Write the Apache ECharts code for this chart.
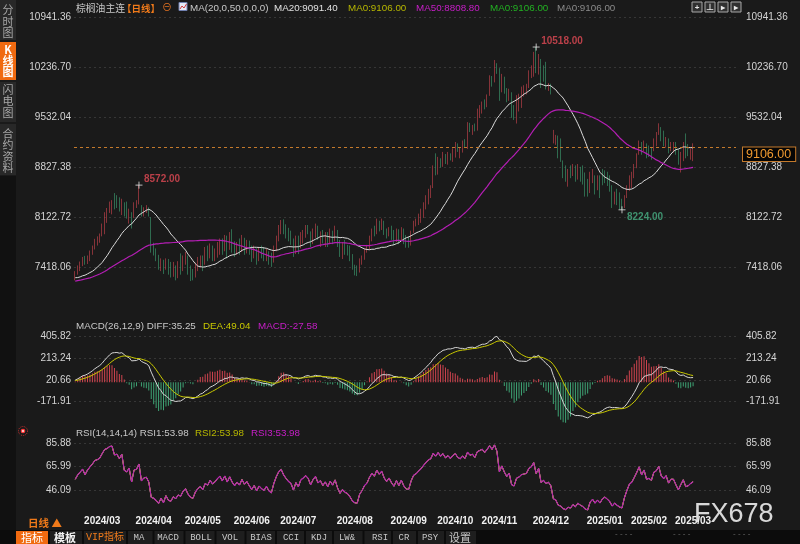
<!DOCTYPE html>
<html><head><meta charset="utf-8">
<script src="https://cdn.jsdelivr.net/npm/echarts@6/dist/echarts.min.js"></script>
<style>html,body{margin:0;padding:0;background:#1a1a1a;}#c{width:800px;height:544px;}</style>
</head><body><div id="c"></div>
<script>
// ---- data ----
// closes before the first visible candle (only used to warm up MA / MACD / RSI)
const pre = [7050,7130,7010,6960,7070,7150,7090,7020,7110,7180,7100,7060,7190,7110,7050,7160,7220,7130,7080,7150,
  7090,7180,7240,7140,7220,7280,7170,7130,7250,7300,7200,7150,7120,7230,7280,7330,7230,7180,7150,7260,
  7320,7380,7290,7230,7300,7200,7260,7350,7270,7190,7240,7300,7210,7290,7220,7180,7290,7230,7300,7270];
// visible daily candles: [open, close, low, high]
const ohlc = [
[7258,7343,7230,7360],[7329,7423,7310,7440],[7376,7479,7360,7495],[7446,7540,7430,7560],[7540,7470,7450,7575],[7479,7564,7460,7580],[7517,7634,7500,7650],[7611,7705,7590,7720],[7681,7799,7665,7815],[7742,7822,7720,7850],
[7775,7869,7760,7890],[7869,8010,7850,8030],[7893,8174,7880,8190],[8057,8221,8040,8250],[8198,8315,8180,8340],[8174,8339,8160,8360],[8432,8245,8230,8460],[8409,8268,8250,8430],[8386,8221,8200,8400],[8174,8362,8150,8380],
[8315,8151,8130,8330],[8315,8127,8100,8340],[8057,8221,8030,8240],[8174,7986,7960,8190],[8127,8315,8110,8330],[8268,8339,8250,8360],[8315,8527,8300,8572],[8268,8151,8130,8290],[8151,8245,8130,8260],[8198,8268,8180,8290],
[8245,8151,8130,8260],[8100,7650,7620,8120],[7700,7611,7580,7760],[7650,7520,7500,7680],[7560,7400,7380,7590],[7380,7520,7360,7540],[7500,7340,7320,7520],[7400,7520,7380,7540],[7510,7330,7310,7530],[7470,7290,7270,7490],
[7300,7400,7280,7490],[7420,7330,7230,7440],[7300,7420,7260,7500],[7540,7380,7310,7610],[7380,7500,7360,7580],[7470,7560,7450,7630],[7560,7400,7310,7580],[7420,7300,7220,7440],[7370,7260,7230,7390],[7290,7400,7270,7480],
[7400,7480,7360,7560],[7440,7530,7410,7580],[7560,7450,7360,7580],[7470,7600,7450,7700],[7680,7560,7500,7720],[7560,7680,7540,7750],[7710,7600,7500,7720],[7560,7650,7500,7680],[7600,7730,7550,7770],[7690,7790,7590,7820],
[7800,7700,7590,7820],[7680,7820,7640,7870],[7840,7700,7540,7860],[7680,7830,7660,7910],[7900,7720,7620,7950],[7760,7640,7560,7780],[7620,7720,7590,7770],[7790,7660,7590,7820],[7650,7790,7630,7870],[7800,7690,7590,7830],
[7650,7750,7610,7800],[7770,7660,7590,7790],[7700,7580,7490,7720],[7560,7660,7540,7720],[7660,7540,7450,7680],[7530,7640,7500,7700],[7690,7580,7540,7720],[7640,7540,7500,7700],[7520,7620,7500,7680],[7630,7520,7450,7640],
[7580,7480,7420,7620],[7500,7660,7480,7720],[7660,7820,7640,7860],[7800,7960,7780,8010],[7900,8030,7880,8080],[8070,7930,7880,8090],[7990,7860,7820,8020],[7940,7800,7780,7970],[7900,7760,7730,7930],[7800,7620,7560,7820],
[7620,7780,7600,7860],[7840,7690,7600,7860],[7690,7850,7680,7910],[7780,7900,7750,7940],[7850,7960,7830,8010],[7990,7910,7880,8010],[7900,7780,7700,7920],[7760,7900,7740,7960],[7860,7980,7830,8030],[7990,7850,7800,8000],
[7760,7900,7700,7920],[7920,7800,7750,7940],[7740,7880,7700,7910],[7900,7780,7700,7910],[7760,7900,7740,7960],[7920,7820,7740,7930],[7800,7940,7780,8000],[7930,7760,7700,7940],[7780,7620,7560,7800],[7560,7700,7530,7770],
[7760,7630,7590,7800],[7700,7600,7580,7730],[7680,7520,7500,7720],[7570,7400,7380,7600],[7430,7340,7300,7450],[7420,7330,7290,7440],[7360,7480,7340,7540],[7480,7550,7450,7580],[7550,7650,7520,7680],[7640,7700,7620,7730],
[7690,7830,7660,7860],[7820,7930,7780,7960],[7980,7880,7850,8000],[7890,8040,7880,8100],[8060,7970,7920,8070],[7960,8050,7940,8100],[8060,7930,7870,8070],[7950,7860,7820,7960],[7860,7940,7850,7980],[7970,7850,7800,8000],
[7900,7780,7730,7940],[7790,7900,7770,7960],[7920,7800,7740,7950],[7800,7920,7790,7980],[7940,7800,7740,7960],[7840,7730,7690,7870],[7800,7720,7690,7850],[7740,7900,7720,7930],[7920,8040,7900,8070],[8020,8080,7990,8100],
[8034,8151,8010,8170],[8057,8221,8040,8240],[8128,8315,8110,8330],[8245,8409,8230,8430],[8315,8503,8300,8520],[8409,8550,8390,8570],[8550,8780,8530,8850],[8973,8740,8710,9020],[8738,8900,8720,8970],[8930,8850,8820,8950],
[8850,8960,8830,9040],[8990,8900,8870,9010],[8880,8990,8860,9040],[9000,8950,8920,9020],[8930,9060,8900,9090],[8990,9150,8960,9180],[9130,9100,9040,9160],[8990,9080,8950,9100],[9050,9180,9030,9200],[9200,9150,9110,9220],
[9100,9400,9080,9460],[9430,9360,9320,9450],[9300,9400,9280,9420],[9420,9360,9330,9440],[9360,9600,9340,9650],[9560,9660,9520,9700],[9600,9720,9580,9750],[9760,9680,9640,9780],[9690,9830,9670,9850],[9850,10050,9830,10120],
[10080,10000,9960,10110],[10040,10300,10020,10335],[10260,10200,10140,10290],[10200,9800,9760,10220],[9900,10050,9880,10140],[10080,9900,9860,10100],[9920,9780,9740,9940],[9780,9900,9760,9930],[9860,9560,9520,9880],[9650,9520,9490,9700],
[9480,9800,9440,9840],[9631,9842,9610,9860],[9678,9936,9660,9960],[9842,9960,9820,9980],[9866,9983,9850,10000],[9960,10171,9940,10190],[10100,10241,10080,10260],[10124,10434,10100,10450],[10476,10171,10150,10518],[10150,10400,10130,10420],
[10335,9960,9940,10350],[10240,10050,10030,10260],[10290,9941,9920,10310],[9920,9990,9900,10010],[9983,9870,9850,10000],[9184,9325,9160,9350],[9161,9255,9140,9280],[9255,8973,8950,9270],[9208,8920,8900,9230],[8900,8760,8670,8920],
[8832,8700,8620,8850],[8640,8760,8550,8800],[8800,8720,8670,8850],[8730,8800,8700,8870],[8800,8700,8620,8850],[8680,8780,8650,8870],[8800,8700,8620,8830],[8760,8640,8580,8850],[8680,8520,8410,8750],[8560,8480,8410,8660],
[8480,8640,8460,8760],[8620,8700,8600,8800],[8690,8560,8440,8710],[8540,8620,8500,8710],[8640,8520,8390,8710],[8680,8600,8570,8800],[8700,8640,8600,8780],[8680,8580,8560,8760],[8620,8500,8480,8710],[8480,8350,8250,8570],
[8330,8400,8300,8480],[8420,8330,8290,8520],[8360,8270,8230,8470],[8362,8240,8224,8380],[8268,8409,8250,8430],[8409,8550,8390,8570],[8503,8691,8490,8710],[8550,8738,8530,8760],[8691,8856,8670,8870],[8832,8996,8810,9020],
[9020,9184,9000,9200],[9161,9020,9000,9180],[9067,9184,9050,9200],[9137,8973,8950,9160],[9114,8996,8970,9130],[9090,8949,8930,9110],[9067,9208,9050,9230],[9137,9255,9120,9320],[9302,9419,9280,9443],[9372,9208,9190,9390],
[9325,9137,9120,9340],[9114,9231,9100,9250],[9208,9043,9020,9230],[9067,9161,9050,9180],[9043,9161,9030,9180],[9161,9020,9000,9180],[9067,8879,8860,9080],[8762,9020,8750,9040],[8926,9161,8910,9180],[9278,8973,8950,9300],
[9137,8996,8980,9150],[8950,9060,8930,9090],[8926,9106,8910,9161]
];
// exchange holidays on weekdays (for the trading-day category axis)
const holidays = ['2024-02-09','2024-02-12','2024-02-13','2024-02-14','2024-02-15','2024-02-16','2024-04-04','2024-04-05',
  '2024-05-01','2024-05-02','2024-05-03','2024-06-10','2024-09-16','2024-09-17','2024-10-01','2024-10-02','2024-10-03',
  '2024-10-04','2024-10-07','2025-01-01','2025-01-28','2025-01-29','2025-01-30','2025-01-31','2025-02-03','2025-02-04'];
const priceTicks = [7418.06, 8122.72, 8827.38, 9532.04, 10236.70, 10941.36];
const macdTicks = [-171.91, 20.66, 213.24, 405.82];
const rsiTicks = [46.09, 65.99, 85.88];
const lastPrice = 9106.00;
const extremeMarks = [[26, 'high'], [188, 'high'], [223, 'low']];

// ---- categories (trading days) ----
const dates = [];
for (let d = new Date(Date.UTC(2024,1,7)); dates.length < ohlc.length; d.setUTCDate(d.getUTCDate()+1)) {
  const wd = d.getUTCDay(); const s = d.toISOString().slice(0,10);
  if (wd === 0 || wd === 6 || holidays.indexOf(s) >= 0) continue;
  dates.push(s);
}
const PAD = 17;
const cats = dates.concat(Array.from({length: PAD}, (_, k) => 'pad' + k));
const monthStart = new Set();
for (let i = 1; i < dates.length; i++) if (dates[i].slice(0,7) !== dates[i-1].slice(0,7)) monthStart.add(i);

// ---- indicators ----
const closes = ohlc.map(d => d[1]);
const all = pre.concat(closes);
const P = pre.length;
function ma(n) { return closes.map((_, i) => { const k = P + i; let s = 0; for (let j = k-n+1; j <= k; j++) s += all[j]; return +(s/n).toFixed(2); }); }
function ema(arr, n) { const out = []; arr.forEach((v, i) => out.push(i === 0 ? v : (2*v + (n-1)*out[i-1]) / (n+1))); return out; }
const e12 = ema(all, 12), e26 = ema(all, 26);
const diffAll = all.map((v, i) => e12[i] - e26[i]);
const deaAll = ema(diffAll, 9);
const diff = diffAll.slice(P).map(v => +v.toFixed(2));
const dea = deaAll.slice(P).map(v => +v.toFixed(2));
const macd = diff.map((v, i) => +(2*(v - dea[i])).toFixed(2));
function rsi(n) { let up = 0, ab = 0; const out = []; for (let k = 1; k < all.length; k++) { const ch = all[k]-all[k-1]; up = (Math.max(ch,0) + (n-1)*up)/n; ab = (Math.abs(ch) + (n-1)*ab)/n; if (k >= P) out.push(+(ab === 0 ? 50 : 100*up/ab).toFixed(2)); } return out; }
const ma20 = ma(20), ma50 = ma(50), rsi14 = rsi(14);

// ---- style ----
const UP = '#d0444f', DN = '#3ea374';
const LAT = "'Liberation Sans','Noto Sans CJK SC',sans-serif";
const CJK = "'Noto Sans CJK SC',sans-serif";
const MONO = "'Liberation Mono','Noto Sans CJK SC',monospace";
const GRID_LINE = {show: true, lineStyle: {color: '#363636', type: [2, 3], width: 1}};
const HF = 9.8;

function yAx(grid, pos, min, max, ticks, split) {
  return {type: 'value', gridIndex: grid, position: pos, min, max, scale: true,
    axisLine: {show: false}, axisTick: {show: false, customValues: ticks},
    axisLabel: {customValues: ticks, color: '#d4d4d4', fontSize: 10, fontFamily: LAT,
      margin: pos === 'left' ? 3 : 10, formatter: v => v.toFixed(2)},
    splitLine: split ? GRID_LINE : {show: false}};
}
function xAx(grid, showLabel) {
  return {type: 'category', gridIndex: grid, data: cats, boundaryGap: true,
    axisLine: {show: false}, axisTick: {show: false}, splitLine: {show: false},
    axisLabel: showLabel ? {show: true, interval: (idx) => monthStart.has(idx), color: '#f2f2f2',
      fontSize: 10, fontWeight: 'bold', fontFamily: LAT, margin: 3,
      formatter: v => v.startsWith('pad') ? '' : v.slice(0,4) + '/' + v.slice(5,7)} : {show: false}};
}

// ---- decorations (graphic) ----
const G = [];
function T(x, y, text, fill, size, fam, weight, align) {
  G.push({type: 'text', x, y, z: 100, silent: true, style: {text, fill, fontSize: size, fontFamily: fam || LAT,
    fontWeight: weight || 'normal', align: align || 'left', verticalAlign: 'middle'}});
}
function R(x, y, w, h, fill, stroke) {
  G.push({type: 'rect', z: 90, silent: true, shape: {x, y, width: w, height: h}, style: {fill, stroke: stroke || null, lineWidth: stroke ? 1 : 0}});
}
// left sidebar
R(0, 0, 16, 40, '#282828'); R(0, 42, 16, 38, '#f06a10'); R(0, 82, 16, 40, '#282828'); R(0, 124, 16, 51, '#282828'); R(0, 176, 16, 354, '#111111');
[['分',10],['时',22],['图',33]].forEach(c => T(8, c[1], c[0], '#a8a8a8', 11, CJK, 'normal', 'center'));
[['K',50],['线',61],['图',72]].forEach(c => T(8, c[1], c[0], '#ffffff', 11, CJK, 'bold', 'center'));
[['闪',90],['电',101],['图',113]].forEach(c => T(8, c[1], c[0], '#a8a8a8', 11, CJK, 'normal', 'center'));
[['合',134],['约',145],['资',157],['料',168]].forEach(c => T(8, c[1], c[0], '#a8a8a8', 11, CJK, 'normal', 'center'));
// header
T(76, 8, '棕榈油主连', '#c8c8c8', 9.8, CJK);
T(122, 8, '【日线】', '#f07a1a', 9.5, CJK, 'bold');
T(162, 8.5, '⊖', '#e07020', 10, LAT);
R(179, 2.5, 8, 8, '#e6ebf7', '#7080b0');
G.push({type: 'polyline', z: 101, silent: true, shape: {points: [[180,9],[182,6],[184,8],[186.5,4]]}, style: {stroke: '#d03a3a', fill: null, lineWidth: 1}});
T(190, 8, 'MA(20,0,50,0,0,0)', '#c8c8c8', HF);
T(274, 8, 'MA20:9091.40', '#e2e2e2', HF);
T(348, 8, 'MA0:9106.00', '#b6b600', HF);
T(416, 8, 'MA50:8808.80', '#c81ec8', HF);
T(490, 8, 'MA0:9106.00', '#22b022', HF);
T(557, 8, 'MA0:9106.00', '#8a8a8a', HF);
// top-right icons
[692, 705, 718, 731].forEach((x, k) => { R(x, 2, 10, 10, '#303030', '#a8a8a8'); T(x + 5, 7.5, ['+','⊥','▸','▸'][k], '#e8e8e8', 8, LAT, 'bold', 'center'); });
// MACD / RSI headers
T(76, 326, 'MACD(26,12,9) DIFF:35.25', '#c8c8c8', HF);
T(203, 326, 'DEA:49.04', '#c8c800', HF);
T(258, 326, 'MACD:-27.58', '#c81ec8', HF);
T(76, 433, 'RSI(14,14,14) RSI1:53.98', '#c8c8c8', HF);
T(195, 433, 'RSI2:53.98', '#b6b600', HF);
T(251, 433, 'RSI3:53.98', '#c81ec8', HF);
G.push({type: 'circle', z: 100, silent: true, shape: {cx: 23, cy: 431, r: 4.5}, style: {fill: null, stroke: '#c83030', lineWidth: 1, lineDash: [1, 1]}});
G.push({type: 'circle', z: 101, silent: true, shape: {cx: 23, cy: 431, r: 2.3}, style: {fill: '#ff3b3b'}});
G.push({type: 'circle', z: 102, silent: true, shape: {cx: 23, cy: 431, r: 0.9}, style: {fill: '#ffffff'}});
// bottom-left period
T(28, 523, '日线 ▲', '#f07a1a', 10.5, CJK, 'bold');
// toolbar
R(0, 530, 800, 14, '#0c0c0c');
R(16, 531, 32, 13, '#f06a10'); T(32, 537.5, '指标', '#ffffff', 11, CJK, 'normal', 'center');
R(50, 531, 32, 13, '#1e1e1e'); T(65, 537.5, '模板', '#f2f2f2', 11, CJK, 'bold', 'center');
R(84, 531, 42, 13, '#1e1e1e'); T(105, 537.5, 'VIP指标', '#f07a1a', 10, MONO, 'normal', 'center');
const tools = [['MA',139],['MACD',168],['BOLL',201],['VOL',230],['BIAS',261],['CCI',291],['KDJ',319],['LW&',347],['RSI',380],['CR',404],['PSY',430],['设置',460]];
tools.forEach((t, k) => {
  const l = k === 0 ? 128 : (tools[k-1][1] + t[1]) / 2 + 1;
  const r = k === tools.length - 1 ? 476 : (t[1] + tools[k+1][1]) / 2 - 1;
  R(l, 531, r - l, 13, '#1e1e1e');
  T(t[1], 537.5, t[0], '#c8c8c8', t[0] === '设置' ? 11 : 9, t[0] === '设置' ? CJK : MONO, 'normal', 'center');
});
// watermark and faint marks
T(694, 515, 'FX678', 'rgba(238,238,238,0.9)', 27, "'Liberation Sans',sans-serif");
T(615, 534, '- - - -', '#6a6a6a', 8); T(673, 534, '- - - -', '#6a6a6a', 8); T(733, 534, '- - - -', '#6a6a6a', 8);

// ---- extreme markers ----
const markData = extremeMarks.map(([i, kind]) => {
  const v = kind === 'high' ? ohlc[i][3] : ohlc[i][2];
  return {value: [i, v], label: {color: kind === 'high' ? '#e24a55' : '#48b084', offset: kind === 'high' ? [0, -6] : [0, 7]}};
});

const option = {
  backgroundColor: '#1a1a1a', animation: false,
  grid: [
    {left: 74, right: 64, top: 17, height: 288},
    {left: 74, right: 64, top: 336, height: 91.6},
    {left: 74, right: 64, top: 443, height: 70.5}
  ],
  xAxis: [xAx(0, false), xAx(1, false), xAx(2, true)],
  yAxis: [
    yAx(0, 'left', 6882.52, 10941.36, priceTicks, true), yAx(0, 'right', 6882.52, 10941.36, priceTicks, false),
    yAx(1, 'left', -400, 405.82, macdTicks, true), yAx(1, 'right', -400, 405.82, macdTicks, false),
    yAx(2, 'left', 26.195, 85.88, rsiTicks, true), yAx(2, 'right', 26.195, 85.88, rsiTicks, false)
  ],
  graphic: {elements: G},
  series: [
    {type: 'candlestick', xAxisIndex: 0, yAxisIndex: 0, data: ohlc, barWidth: 1.2,
      itemStyle: {color: UP, color0: DN, borderColor: UP, borderColor0: DN, borderWidth: 0.6},
      markLine: {silent: true, symbol: ['none', 'none'], animation: false,
        lineStyle: {color: '#c47a2c', type: [3, 3], width: 1},
        label: {show: true, position: 'end', formatter: lastPrice.toFixed(2), color: '#f09a30', backgroundColor: '#050505',
          borderColor: '#c47a2c', borderWidth: 1, padding: [1, 4, 0, 3], fontSize: 12.5, fontFamily: LAT, distance: 7, offset: [0, 7]},
        data: [{yAxis: lastPrice}]}},
    {type: 'line', xAxisIndex: 0, yAxisIndex: 0, data: ma20, symbol: 'none', lineStyle: {color: '#dadada', width: 1}, z: 3},
    {type: 'line', xAxisIndex: 0, yAxisIndex: 0, data: ma50, symbol: 'none', lineStyle: {color: '#b41eb4', width: 1.2}, z: 3},
    {type: 'scatter', xAxisIndex: 0, yAxisIndex: 0, data: markData, symbol: 'path://M0,5L10,5M5,0L5,10', symbolSize: 7,
      itemStyle: {color: 'rgba(0,0,0,0)', borderColor: '#e6e6e6', borderWidth: 1}, z: 5,
      label: {show: true, position: 'right', distance: 1, fontSize: 10, fontWeight: 'bold', fontFamily: LAT,
        formatter: p => p.value[1].toFixed(2)}},
    {type: 'bar', xAxisIndex: 1, yAxisIndex: 2, data: macd, barWidth: 1,
      itemStyle: {color: p => p.value >= 0 ? UP : DN}},
    {type: 'line', xAxisIndex: 1, yAxisIndex: 2, data: diff, symbol: 'none', lineStyle: {color: '#d4d4d4', width: 1}, z: 3},
    {type: 'line', xAxisIndex: 1, yAxisIndex: 2, data: dea, symbol: 'none', lineStyle: {color: '#c8c800', width: 1}, z: 3},
    {type: 'line', xAxisIndex: 2, yAxisIndex: 4, data: rsi14, symbol: 'none', lineStyle: {color: '#d4d4d4', width: 1}},
    {type: 'line', xAxisIndex: 2, yAxisIndex: 4, data: rsi14, symbol: 'none', lineStyle: {color: '#c8c800', width: 1}},
    {type: 'line', xAxisIndex: 2, yAxisIndex: 4, data: rsi14, symbol: 'none', lineStyle: {color: '#b41eb4', width: 1.1}}
  ]
};
const chart = echarts.init(document.getElementById('c'), null, {renderer: 'canvas'});
chart.setOption(option);
</script>
</body></html>
